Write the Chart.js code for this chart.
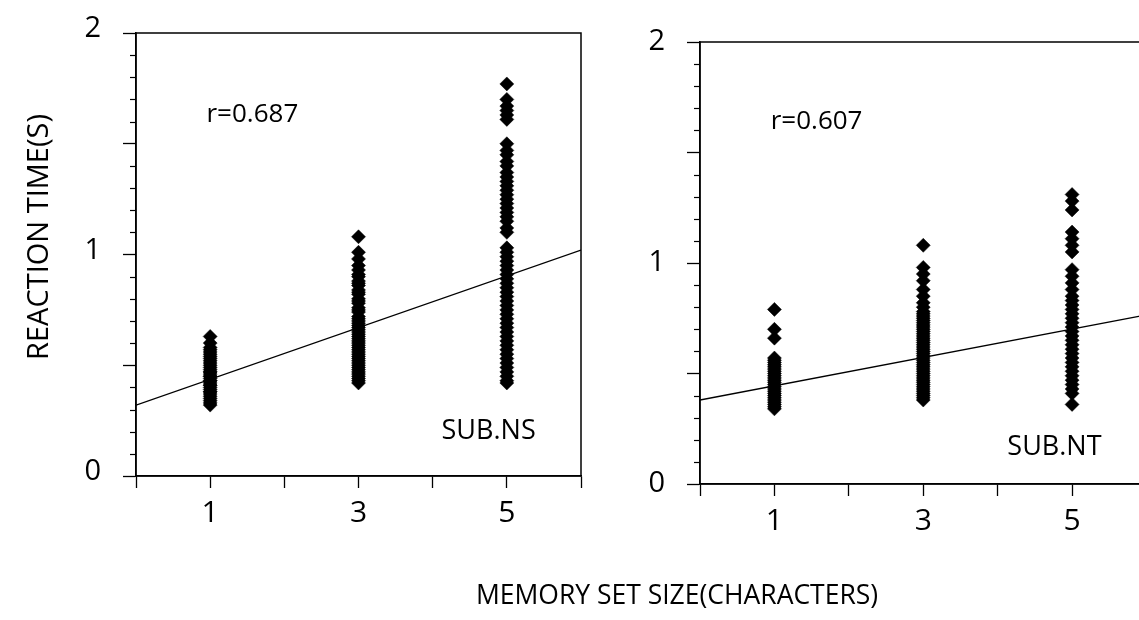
<!DOCTYPE html>
<html>
<head>
<meta charset="utf-8">
<script src="https://cdn.jsdelivr.net/npm/chart.js@4/dist/chart.umd.min.js"></script>
<style>
  html, body { margin: 0; padding: 0; background: #fff; overflow: hidden; width: 1139px; height: 620px; }
  #wrap { position: relative; width: 1139px; height: 620px; overflow: hidden; }
  canvas { position: absolute; top: 0; }
  #c1 { left: 0; }
  #c2 { left: 620px; }
</style>
</head>
<body>
<div id="wrap">
  <canvas id="c1" width="1139" height="620"></canvas>
  <canvas id="c2" width="560" height="620"></canvas>
</div>
<script>
// ---------------- data ----------------
const setSizes = [1, 3, 5];               // memory set size (characters)
const xTickLabels = ['', '1', '', '3', '', '5', ''];
const yTickLabels = ['0', '', '1', '', '2'];

// SUB.NS reaction times (s)
const nsRT1 = [0.63, 0.60, 0.58, 0.57, 0.56, 0.55, 0.54, 0.53, 0.52, 0.51, 0.50, 0.49, 0.48, 0.47, 0.47, 0.46,
               0.45, 0.45, 0.44, 0.43, 0.43, 0.42, 0.41, 0.41, 0.40, 0.39, 0.38, 0.38, 0.37, 0.36, 0.35, 0.34, 0.33, 0.32];
const nsRT3 = [1.08, 1.01, 0.98, 0.95, 0.93, 0.91, 0.90, 0.88, 0.87, 0.86, 0.84, 0.83, 0.82, 0.80, 0.79, 0.78,
               0.76, 0.75, 0.74, 0.72, 0.71, 0.70, 0.69, 0.68, 0.67, 0.66, 0.65, 0.64, 0.63, 0.62, 0.61, 0.60,
               0.59, 0.58, 0.57, 0.56, 0.55, 0.54, 0.53, 0.52, 0.51, 0.50, 0.49, 0.48, 0.47, 0.46, 0.45, 0.44, 0.43, 0.42];
const nsRT5 = [1.77, 1.70, 1.67, 1.65, 1.63, 1.61, 1.50, 1.47, 1.45, 1.42, 1.40, 1.37, 1.35, 1.33, 1.31, 1.29,
               1.27, 1.25, 1.23, 1.21, 1.19, 1.17, 1.15, 1.12, 1.10, 1.03, 1.01, 0.99, 0.97, 0.95, 0.93, 0.91,
               0.89, 0.87, 0.85, 0.83, 0.81, 0.79, 0.77, 0.75, 0.73, 0.71, 0.69, 0.67, 0.65, 0.63, 0.61, 0.59,
               0.57, 0.55, 0.53, 0.51, 0.49, 0.47, 0.45, 0.43, 0.42];
// SUB.NT reaction times (s)
const ntRT1 = [0.79, 0.70, 0.66, 0.57, 0.56, 0.55, 0.54, 0.53, 0.52, 0.51, 0.50, 0.49, 0.48, 0.47, 0.46, 0.45,
               0.44, 0.43, 0.42, 0.41, 0.40, 0.39, 0.38, 0.37, 0.36, 0.35, 0.34];
const ntRT3 = [1.08, 0.98, 0.95, 0.92, 0.88, 0.85, 0.82, 0.80, 0.78, 0.77, 0.76, 0.75, 0.74, 0.73, 0.72, 0.71,
               0.70, 0.69, 0.68, 0.67, 0.66, 0.65, 0.64, 0.63, 0.62, 0.61, 0.60, 0.59, 0.58, 0.57, 0.56, 0.55,
               0.54, 0.53, 0.52, 0.51, 0.50, 0.49, 0.48, 0.47, 0.46, 0.45, 0.44, 0.43, 0.42, 0.41, 0.40, 0.39, 0.38];
const ntRT5 = [1.31, 1.28, 1.24, 1.14, 1.11, 1.08, 1.05, 0.97, 0.94, 0.91, 0.88, 0.85, 0.83, 0.81, 0.79, 0.77,
               0.75, 0.73, 0.71, 0.69, 0.67, 0.65, 0.63, 0.61, 0.59, 0.57, 0.55, 0.53, 0.51, 0.49, 0.47, 0.45,
               0.43, 0.41, 0.36];
// regression lines (value at x = 0 and x = 6)
const fitX = [0, 6];
const nsFit = [0.32, 1.02];
const ntFit = [0.38, 0.765];

const nsLabel = 'SUB.NS', nsR = 'r=0.687';
const ntLabel = 'SUB.NT', ntR = 'r=0.607';
const yTitle = 'REACTION TIME(S)';
const xTitle = 'MEMORY SET SIZE(CHARACTERS)';

// ---------------- helpers ----------------
const FONT = "'Open Sans', 'DejaVu Sans', sans-serif";
Chart.defaults.font.family = FONT;
Chart.defaults.color = '#000';

function pts(x, arr) { return arr.map(v => ({ x: x, y: v })); }

function datasets(rt1, rt3, rt5, fit) {
  const scatterStyle = {
    pointStyle: 'rectRot', pointRadius: 7, pointHoverRadius: 7,
    backgroundColor: '#000', borderColor: '#000', borderWidth: 0.5, showLine: false
  };
  return [
    { data: fitX.map((x, i) => ({ x: x, y: fit[i] })), showLine: true, pointRadius: 0,
      borderColor: '#000', borderWidth: 1.4, fill: false },
    Object.assign({ data: pts(setSizes[0], rt1) }, scatterStyle),
    Object.assign({ data: pts(setSizes[1], rt3) }, scatterStyle),
    Object.assign({ data: pts(setSizes[2], rt5) }, scatterStyle)
  ];
}

const framePlugin = {
  id: 'frame',
  afterDraw(chart) {
    const { ctx, chartArea: a, scales } = chart;
    ctx.save();
    ctx.strokeStyle = '#000';
    ctx.lineWidth = 1.5;
    ctx.strokeRect(a.left, a.top, a.right - a.left, a.bottom - a.top);
    // minor ticks on the y axis
    ctx.lineWidth = 1.2;
    const ys = scales.y;
    for (let i = 1; i < 20; i++) {
      if (i % 5 === 0) continue;
      const py = Math.round(ys.getPixelForValue(i / 10)) + 0.5;
      ctx.beginPath();
      ctx.moveTo(a.left - 6, py);
      ctx.lineTo(a.left, py);
      ctx.stroke();
    }
    ctx.restore();
  }
};

const notesPlugin = {
  id: 'notes',
  afterDraw(chart, args, opts) {
    const { ctx, scales } = chart;
    ctx.save();
    ctx.fillStyle = '#000';
    (opts.items || []).forEach(it => {
      ctx.font = it.size + 'px ' + FONT;
      ctx.textBaseline = 'middle';
      ctx.textAlign = 'left';
      ctx.fillText(it.text, scales.x.getPixelForValue(it.x), scales.y.getPixelForValue(it.y));
    });
    (opts.titles || []).forEach(t => {
      ctx.save();
      ctx.font = t.size + 'px ' + FONT;
      ctx.textBaseline = 'middle';
      ctx.textAlign = 'center';
      ctx.translate(t.px, t.py);
      ctx.rotate(t.rot || 0);
      ctx.fillText(t.text, 0, 0);
      ctx.restore();
    });
    ctx.restore();
  }
};

function makeChart(id, ds, yWidth, xHeight, padding, yLabelOffset, notes) {
  return new Chart(document.getElementById(id), {
    type: 'scatter',
    data: { datasets: ds },
    options: {
      responsive: false,
      animation: false,
      devicePixelRatio: 1,
      layout: { padding: padding, autoPadding: false },
      plugins: { legend: { display: false }, tooltip: { enabled: false }, notes: notes },
      scales: {
        x: {
          type: 'linear', min: 0, max: 6,
          afterFit(s) { s.height = xHeight; s.paddingLeft = 0; s.paddingRight = 0; },
          ticks: { stepSize: 1, autoSkip: false, maxRotation: 0, padding: 7,
                   font: { size: 30 }, color: '#000',
                   callback: (v, i) => xTickLabels[i] },
          grid: { drawOnChartArea: false, tickLength: 12, tickWidth: 1.3, color: '#000' },
          border: { color: '#000', width: 1.5 }
        },
        y: {
          type: 'linear', min: 0, max: 2,
          afterFit(s) { s.width = yWidth; s.paddingTop = 0; s.paddingBottom = 0; },
          ticks: { stepSize: 0.5, autoSkip: false, padding: 22, labelOffset: yLabelOffset,
                   font: { size: 29 }, color: '#000',
                   callback: (v, i) => yTickLabels[i] },
          grid: { drawOnChartArea: false, tickLength: 13, tickWidth: 1.3, color: '#000' },
          border: { color: '#000', width: 1.5 }
        }
      }
    },
    plugins: [framePlugin, notesPlugin]
  });
}

makeChart('c1', datasets(nsRT1, nsRT3, nsRT5, nsFit), 136, 144,
  { left: 0, top: 33, right: 1139 - 581, bottom: 0 }, -4,
  { items: [ { text: nsR, x: 0.95, y: 1.63, size: 26 }, { text: nsLabel, x: 4.12, y: 0.20, size: 27 } ],
    titles: [ { text: yTitle, px: 40, py: 237, rot: -Math.PI / 2, size: 29 },
              { text: xTitle, px: 677, py: 596, size: 26.5 } ] });

makeChart('c2', datasets(ntRT1, ntRT3, ntRT5, ntFit), 80, 136,
  { left: 0, top: 42, right: 33.5, bottom: 0 }, 0,
  { items: [ { text: ntR, x: 0.95, y: 1.64, size: 26 }, { text: ntLabel, x: 4.13, y: 0.167, size: 27 } ] });
</script>
</body>
</html>
